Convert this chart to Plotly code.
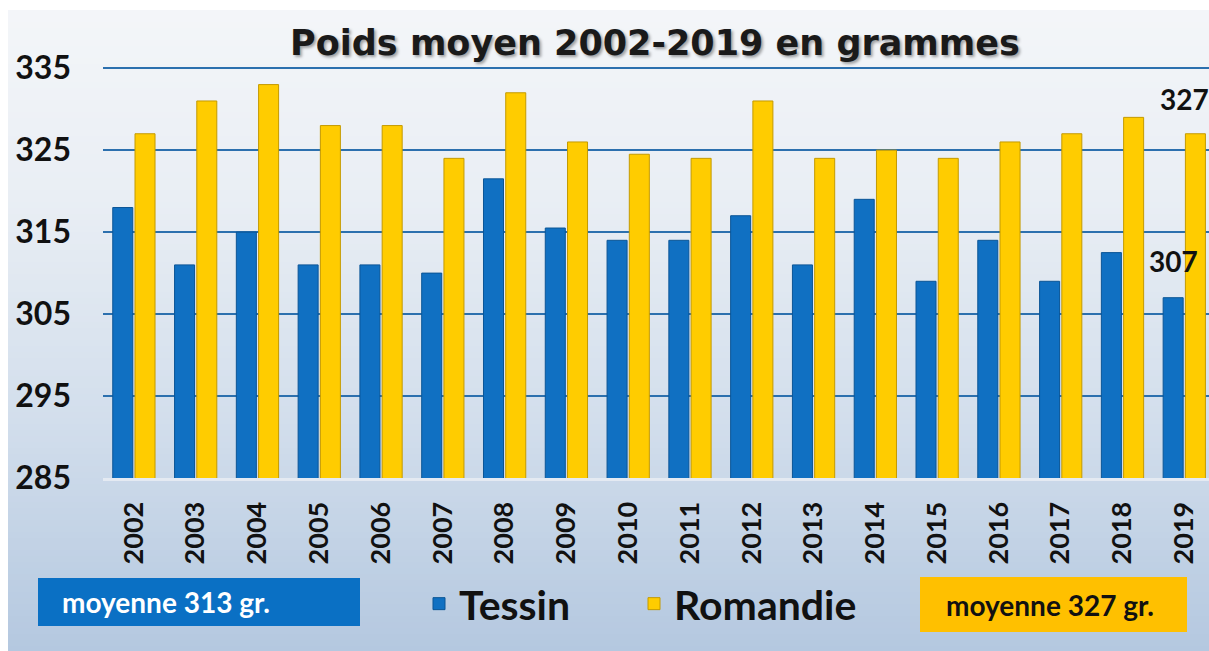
import plotly.graph_objects as go

years = [str(y) for y in range(2002, 2020)]
tessin = [318, 311, 315, 311, 311, 310, 321.5, 315.5, 314, 314, 317, 311, 319, 309, 314, 309, 312.5, 307]
romandie = [327, 331, 333, 328, 328, 324, 332, 326, 324.5, 324, 331, 324, 325, 324, 326, 327, 329, 327]
y_ticks = [285, 295, 305, 315, 325, 335]
title_text = "Poids moyen 2002-2019 en grammes"
series_names = ["Tessin", "Romandie"]

W, H = 1209, 651
L, R, T = 103, 0, 60
B = H - 478
PW, PH = W - L - R, H - T - B


def px(xp):
    return (xp - L) / PW


def py(yp):
    return (H - B - yp) / PH


def hex2rgb(h):
    h = h.lstrip("#")
    return [int(h[i:i + 2], 16) for i in (0, 2, 4)]


stops = [(0, "#f4f6f9"), (200, "#e9eef4"), (420, "#d2deec"), (660, "#b3c7df")]


def color_at(y):
    for (y0, c0), (y1, c1) in zip(stops[:-1], stops[1:]):
        if y0 <= y <= y1:
            t = (y - y0) / (y1 - y0)
            a, b = hex2rgb(c0), hex2rgb(c1)
            return "rgb(%d,%d,%d)" % tuple(round(a[i] + (b[i] - a[i]) * t) for i in range(3))
    return stops[-1][1]


shapes = []
step = 6
yy = 10
while yy < H:
    shapes.append(dict(type="rect", xref="paper", yref="paper", layer="below",
                       x0=px(8), x1=px(W + 5), y0=py(min(yy + step + 1, H + 2)), y1=py(yy),
                       fillcolor=color_at(yy + step / 2), line=dict(width=0)))
    yy += step

# average boxes
shapes.append(dict(type="rect", xref="paper", yref="paper", layer="above",
                   x0=px(38), x1=px(360), y0=py(626), y1=py(578),
                   fillcolor="#0A70C4", line=dict(width=0)))
shapes.append(dict(type="rect", xref="paper", yref="paper", layer="above",
                   x0=px(920), x1=px(1187), y0=py(632), y1=py(577),
                   fillcolor="#FFC000", line=dict(width=0)))

avg_t = round(sum(tessin) / len(tessin))
avg_r = round(sum(romandie) / len(romandie))

fig = go.Figure()
fig.add_trace(go.Bar(x=years, y=tessin, name=series_names[0], legend="legend",
                     marker=dict(color="#1070C2", line=dict(color="#0B5596", width=1))))
fig.add_trace(go.Bar(x=years, y=romandie, name=series_names[1], legend="legend2",
                     marker=dict(color="#FFCC00", line=dict(color="#C49A00", width=1))))

bold = "Lato"
last = len(years) - 1
annotations = [
    dict(x=last, y=tessin[-1], xref="x", yref="y", text="<b>%d</b>" % tessin[-1],
         showarrow=False, xshift=-11, yanchor="bottom", yshift=18,
         font=dict(family=bold, size=28, color="#111111")),
    dict(x=last, y=romandie[-1], xref="x", yref="y", text="<b>%d</b>" % romandie[-1],
         showarrow=False, xshift=0, yanchor="bottom", yshift=16,
         font=dict(family=bold, size=28, color="#111111")),
    dict(x=px(60), y=py(602), xref="paper", yref="paper", xanchor="left", yanchor="middle",
         text="<b>moyenne %d gr.</b>" % avg_t, showarrow=False,
         font=dict(family=bold, size=28, color="white")),
    dict(x=px(944), y=py(605), xref="paper", yref="paper", xanchor="left", yanchor="middle",
         text="<b>moyenne %d gr.</b>" % avg_r, showarrow=False,
         font=dict(family=bold, size=28, color="#111111")),
]

legend_font = dict(family=bold, size=41, color="#111111", weight="bold")

fig.update_layout(
    width=W, height=H,
    margin=dict(l=L, r=R, t=T, b=B, autoexpand=False),
    paper_bgcolor="white",
    plot_bgcolor="rgba(0,0,0,0)",
    barmode="group", bargap=0.28, bargroupgap=0.1,
    title=dict(text="<b>" + title_text + "</b>", x=655 / W, xanchor="center",
               y=1 - 43 / H, yanchor="middle",
               font=dict(family="DejaVu Sans", size=35, color="#1a1a1a",
                         shadow="2px 2px 3px rgba(0,0,0,0.35)")),
    xaxis=dict(type="category", range=[-0.5, 17.4], tickangle=-90,
               tickfont=dict(family=bold, size=27, color="#111111", weight="bold"),
               ticklabelstandoff=10, showgrid=False, showline=True,
               linecolor="#e4eaf2", linewidth=3, ticks="", fixedrange=True),
    yaxis=dict(range=[285, 336], tickvals=y_ticks, ticktext=[str(v) for v in y_ticks],
               tickfont=dict(family=bold, size=32, color="#111111", weight="bold"),
               ticklabelstandoff=31, showgrid=True, gridcolor="#2C70AE", gridwidth=2,
               zeroline=False, showline=False, ticks=""),
    legend=dict(orientation="h", x=px(419), xanchor="left", y=py(604), yanchor="middle",
                bgcolor="rgba(0,0,0,0)", font=legend_font),
    legend2=dict(orientation="h", x=px(634), xanchor="left", y=py(604), yanchor="middle",
                 bgcolor="rgba(0,0,0,0)", font=legend_font),
    shapes=shapes,
    annotations=annotations,
    showlegend=True,
)

fig.write_html("out.html", config={"displayModeBar": False},
               post_script="document.body.style.margin='0px';document.body.style.overflow='hidden';")
